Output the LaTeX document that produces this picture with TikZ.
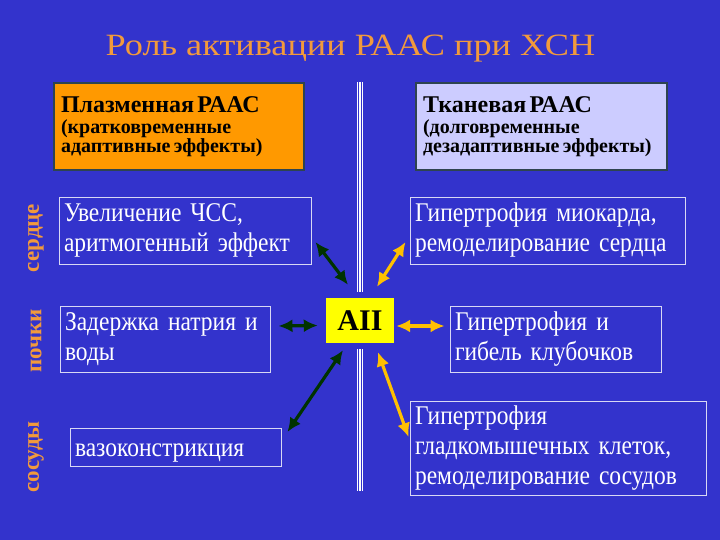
\documentclass[tikz,border=0pt]{standalone}
\usepackage{fontspec}
\setmainfont{Liberation Serif}
\newfontfamily\titlefont{Liberation Serif}[FakeStretch=1.17]
\newfontfamily\boxfont{Liberation Serif}[FakeStretch=0.87]
\usetikzlibrary{calc,arrows.meta}

\definecolor{bgblue}{HTML}{3333CC}
\definecolor{titleorange}{HTML}{F29A3C}
\definecolor{plasmaorange}{HTML}{FF9900}
\definecolor{tissuelilac}{HTML}{CCCCFF}
\definecolor{headframe}{HTML}{2E4450}
\definecolor{boxframe}{HTML}{D8D8F4}
\definecolor{darkgreen}{HTML}{003300}
\definecolor{arrowyellow}{HTML}{FFC000}
\definecolor{aiiyellow}{HTML}{FFFF00}

\begin{document}
\begin{tikzpicture}[x=1pt,y=-1pt,
  effect/.style={draw=boxframe, line width=0.9pt, text=white, align=left,
    inner xsep=5pt, inner ysep=0pt, font=\boxfont\fontsize{27}{30}\selectfont},
  raas/.style={draw=headframe, line width=2pt, text=black, align=left,
    inner xsep=7pt, inner ysep=0pt, minimum height=87},
  organ/.style={rotate=90, text=titleorange, font=\bfseries\fontsize{23}{26}\selectfont},
  greenarr/.style={{Latex[length=14pt,width=13pt]}-{Latex[length=14pt,width=13pt]}, draw=darkgreen, line width=3.2pt},
  yellowarr/.style={{Latex[length=14pt,width=13pt]}-{Latex[length=14pt,width=13pt]}, draw=arrowyellow, line width=3.2pt}]
  \fill[bgblue] (0,0) rectangle (720,540);
  \useasboundingbox (0,0) rectangle (720,540);

  \node[text=titleorange, anchor=base, font=\titlefont\fontsize{31}{34}\selectfont] (title) at (350.5,56)
    {Роль активации РААС при ХСН};

  \foreach \dx in {-2.6,0,2.6} {
    \draw[white, line width=1.3pt] (360+\dx,82) -- (360+\dx,292);
    \draw[white, line width=1.3pt] (360+\dx,349) -- (360+\dx,491);
  }

  \node[raas, fill=plasmaorange, minimum width=250, text width=236] (plasma) at (179,126.5)
    {{\bfseries\fontsize{24}{26}\selectfont Плазменная РААС}\\[-3pt]
     {\bfseries\fontsize{20}{24}\selectfont (кратковременные\\ адаптивные эффекты)}};
  \node[raas, fill=tissuelilac, minimum width=251, text width=237] (tissue) at (541.5,126.5)
    {{\bfseries\fontsize{24}{26}\selectfont Тканевая РААС}\\[-3pt]
     {\bfseries\fontsize{20}{24}\selectfont (долговременные\\ дезадаптивные эффекты)}};

  \node[organ] (heart) at (36,238) {сердце};
  \node[organ] (kidney) at (36,341) {почки};
  \node[organ] (vessel) at (36,457) {сосуды};

  \node[effect, minimum width=252, minimum height=67, text width=242] (hrate) at (185,230.5)
    {Увеличение ЧСС,\\ аритмогенный эффект};
  \node[effect, minimum width=275, minimum height=67, text width=265] (myocard) at (547.5,230.5)
    {Гипертрофия миокарда,\\ ремоделирование сердца};
  \node[effect, minimum width=210, minimum height=66, text width=200] (sodium) at (165,339)
    {Задержка натрия и\\ воды};
  \node[effect, minimum width=211, minimum height=66, text width=201] (glomer) at (555.5,339)
    {Гипертрофия и\\ гибель клубочков};
  \node[effect, minimum width=211, minimum height=38, text width=201, text height=24pt] (vasocon) at (175.5,447)
    {вазоконстрикция};
  \node[effect, minimum width=296, minimum height=94, text width=286] (smooth) at (558,448)
    {Гипертрофия\\ гладкомышечных клеток,\\ ремоделирование сосудов};

  \node[fill=aiiyellow, minimum width=68, minimum height=45, inner sep=0pt,
    font=\bfseries\fontsize{30}{32}\selectfont] (aii) at (360,320.5) {AII};

  \draw[greenarr] ($(hrate.east)+(4,11.5)$) -- ($(aii.north)+(-12,-13)$);
  \draw[yellowarr] ($(aii.north)+(17,-11)$) -- ($(myocard.west)+(-4,11.5)$);
  \draw[greenarr] ($(sodium.east)+(8,-13)$) -- ($(aii.west)+(-8,5)$);
  \draw[yellowarr] ($(aii.east)+(2,5.5)$) -- ($(glomer.west)+(-5,-13)$);
  \draw[greenarr] ($(vasocon.east)+(6,-15)$) -- ($(aii.south)+(-17,7)$);
  \draw[yellowarr] ($(aii.south)+(18,9)$) -- ($(smooth.west)+(-1,-11)$);
\end{tikzpicture}
\end{document}
